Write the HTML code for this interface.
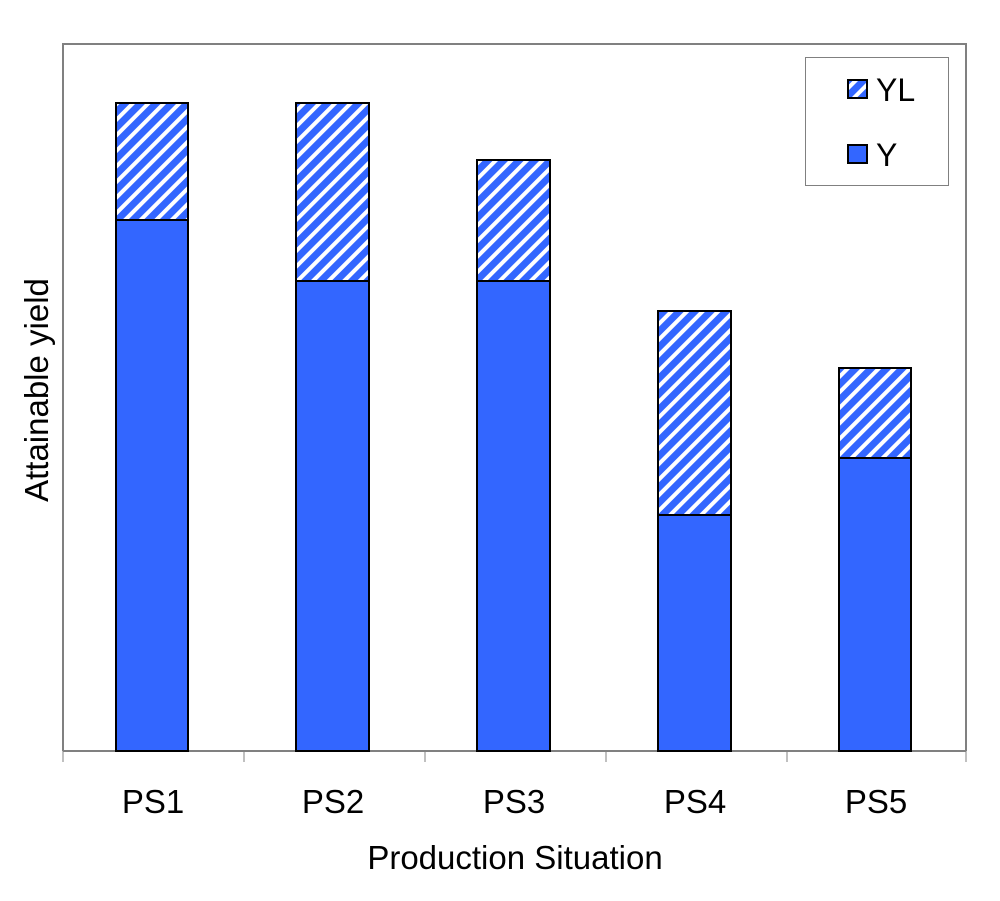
<!DOCTYPE html>
<html><head><style>body{margin:0;background:#fff}</style></head><body>
<svg width="1000" height="896" xmlns="http://www.w3.org/2000/svg" font-family="Liberation Sans, Arial, sans-serif">
<defs>
<pattern id="h" width="11" height="11" patternUnits="userSpaceOnUse" patternTransform="rotate(45)">
<rect width="11" height="11" fill="#3366FF"/><rect width="4" height="11" fill="#fff"/>
</pattern>
</defs>
<rect x="0" y="0" width="1000" height="896" fill="#fff"/>
<polyline points="63,751 63,44 966,44 966,751" fill="none" stroke="#808080" stroke-width="2"/>
<line x1="63" y1="751" x2="966" y2="751" stroke="#808080" stroke-width="2"/>
<g stroke="#808080" stroke-width="1">
<line x1="63" y1="751" x2="63" y2="762"/><line x1="244" y1="751" x2="244" y2="762"/>
<line x1="425" y1="751" x2="425" y2="762"/><line x1="606" y1="751" x2="606" y2="762"/>
<line x1="787" y1="751" x2="787" y2="762"/><line x1="966" y1="751" x2="966" y2="762"/>
</g>
<g stroke="#000" stroke-width="2">
<rect x="116" y="103" width="72" height="117" fill="url(#h)"/>
<rect x="116" y="220" width="72" height="531" fill="#3366FF"/>
<rect x="296" y="103" width="73" height="178" fill="url(#h)"/>
<rect x="296" y="281" width="73" height="470" fill="#3366FF"/>
<rect x="477" y="160" width="73" height="121" fill="url(#h)"/>
<rect x="477" y="281" width="73" height="470" fill="#3366FF"/>
<rect x="658" y="311" width="73" height="204" fill="url(#h)"/>
<rect x="658" y="515" width="73" height="236" fill="#3366FF"/>
<rect x="839" y="368" width="72" height="90" fill="url(#h)"/>
<rect x="839" y="458" width="72" height="293" fill="#3366FF"/>
</g>
<rect x="805.5" y="57.5" width="143" height="128" fill="#fff" stroke="#808080" stroke-width="1"/>
<rect x="848" y="80" width="19" height="18" fill="url(#h)" stroke="#000" stroke-width="2"/>
<rect x="848" y="145" width="19" height="18" fill="#3366FF" stroke="#000" stroke-width="2"/>
<text x="876" y="101" font-size="32">YL</text>
<text x="876" y="166" font-size="32">Y</text>
<g font-size="33" text-anchor="middle">
<text x="153" y="813">PS1</text><text x="333" y="813">PS2</text><text x="514" y="813">PS3</text>
<text x="695" y="813">PS4</text><text x="876" y="813">PS5</text>
<text x="515" y="869">Production Situation</text>
<text transform="translate(48,390) rotate(-90)">Attainable yield</text>
</g>
</svg>
</body></html>
